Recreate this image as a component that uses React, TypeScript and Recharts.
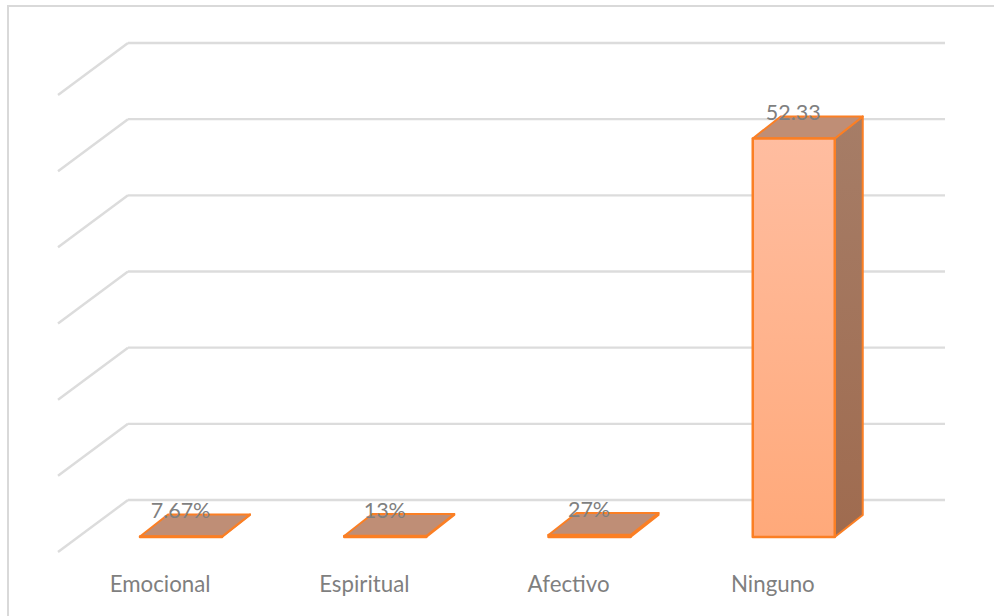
import React from "react";
import { BarChart, Bar, XAxis, YAxis, CartesianGrid, LabelList } from "recharts";

const categories = ["Emocional", "Espiritual", "Afectivo", "Ninguno"];
const shares = [0.0767, 0.13, 0.27, 52.33];
const shareLabels = ["7.67%", "13%", "27%", "52.33"];
const axisTicks = [0, 10, 20, 30, 40, 50, 60];

const rows = categories.map((name, i) => ({ name, share: shares[i], label: shareLabels[i] }));

// Oblique projection of the 3D column chart
const FLOOR_DX = 70;
const FLOOR_DY = 52;
const BAR_SHIFT_X = -49;
const BAR_SHIFT_Y = 37;
const TOP_DX = 28;
const TOP_DY = 22;

const FONT = "Lato, sans-serif";
const TEXT_COLOR = "#7f7f7f";
const GRID_COLOR = "#dcdcdc";
const EDGE_COLOR = "#fb7f24";

function WallLine(props: any) {
  const { x1, y1, x2, y2 } = props;
  return (
    <g>
      <line x1={x1 - FLOOR_DX} y1={y1 + FLOOR_DY} x2={x1} y2={y1} stroke={GRID_COLOR} strokeWidth={2.4} />
      <line x1={x1} y1={y1} x2={x2} y2={y2} stroke={GRID_COLOR} strokeWidth={2.4} />
    </g>
  );
}

function Column3D(props: any) {
  const { x, y, width, height } = props;
  const l = x + BAR_SHIFT_X;
  const t = y + BAR_SHIFT_Y;
  const r = l + width;
  const b = t + height;
  return (
    <g strokeLinejoin="round">
      <polygon
        points={`${r},${t} ${r + TOP_DX},${t - TOP_DY} ${r + TOP_DX},${b - TOP_DY} ${r},${b}`}
        fill="url(#sideFill)"
        stroke={EDGE_COLOR}
        strokeWidth={2}
      />
      <polygon
        points={`${l},${t} ${l + TOP_DX},${t - TOP_DY} ${r + TOP_DX},${t - TOP_DY} ${r},${t}`}
        fill="#bf8e76"
        stroke={EDGE_COLOR}
        strokeWidth={2}
      />
      <rect x={l} y={t} width={width} height={height} fill="url(#frontFill)" stroke={EDGE_COLOR} strokeWidth={2.5} />
    </g>
  );
}

function ValueLabel(props: any) {
  const { x, y, width, value } = props;
  return (
    <text
      x={x + BAR_SHIFT_X + width / 2 - 0.5}
      y={y + BAR_SHIFT_Y - 18}
      textAnchor="middle"
      fontFamily={FONT}
      fontSize={21.5}
      fill={TEXT_COLOR}
    >
      {value}
    </text>
  );
}

function CategoryTick(props: any) {
  const { x, y, payload } = props;
  return (
    <text x={x - FLOOR_DX} y={y + 92} textAnchor="middle" fontFamily={FONT} fontSize={22.3} fill={TEXT_COLOR}>
      {payload.value}
    </text>
  );
}

export default function App() {
  return (
    <div
      style={{
        position: "fixed",
        left: 0,
        top: 0,
        width: 994,
        height: 616,
        background: "#fff",
        overflow: "hidden",
      }}
    >
      <div
        style={{
          position: "absolute",
          left: 7,
          top: 5,
          width: 990,
          height: 620,
          border: "2px solid #d9d9d9",
          boxSizing: "border-box",
        }}
      />
      <div style={{ position: "absolute", left: 0, top: 0 }}>
        <BarChart
          width={994}
          height={616}
          data={rows}
          margin={{ top: 43, right: 49, bottom: 56, left: 128 }}
          barCategoryGap={0}
        >
          <defs>
            <linearGradient id="frontFill" x1="0" y1="0" x2="0" y2="1">
              <stop offset="0%" stopColor="#ffbda0" />
              <stop offset="100%" stopColor="#ffa97a" />
            </linearGradient>
            <linearGradient id="sideFill" x1="0" y1="0" x2="0" y2="1">
              <stop offset="0%" stopColor="#a67d67" />
              <stop offset="100%" stopColor="#9f6b4f" />
            </linearGradient>
          </defs>
          <CartesianGrid vertical={false} horizontal={(p: any) => <WallLine key={p.key ?? p.y1} {...p} />} />
          <XAxis
            dataKey="name"
            height={60}
            axisLine={false}
            tickLine={false}
            tickMargin={0}
            interval={0}
            tick={(p: any) => <CategoryTick {...p} y={500} />}
          />
          <YAxis hide domain={[0, 60]} ticks={axisTicks} />
          <Bar dataKey="share" barSize={82} shape={Column3D} isAnimationActive={false}>
            <LabelList dataKey="label" content={ValueLabel} />
          </Bar>
        </BarChart>
      </div>
    </div>
  );
}
